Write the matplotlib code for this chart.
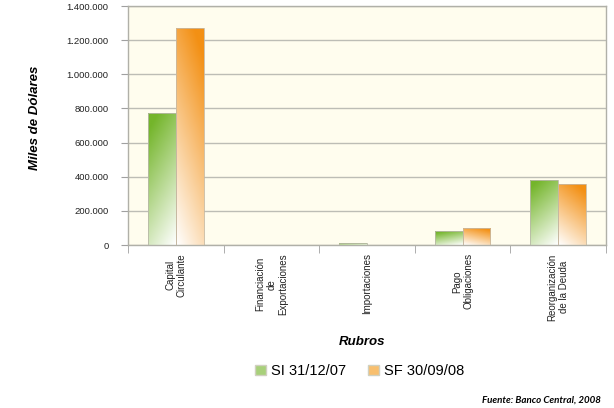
import matplotlib.pyplot as plt
import numpy as np
from matplotlib.colors import LinearSegmentedColormap
from matplotlib.patches import Patch

plt.rcParams['font.family'] = ['Liberation Sans', 'DejaVu Sans']

rubros = [
    "Capital\nCirculante",
    "Financiación\nde\nExportaciones",
    "Importaciones",
    "Pago\nObligaciones",
    "Reorganización\nde la Deuda",
]
si_311207 = [773000, 0, 10000, 82000, 381000]
sf_300908 = [1271000, 0, 0, 97000, 357000]
series_labels = ["SI 31/12/07", "SF 30/09/08"]
y_ticks = [0, 200000, 400000, 600000, 800000, 1000000, 1200000, 1400000]

fig = plt.figure(figsize=(6.14, 4.08), dpi=100)
ax = fig.add_axes([0.2085, 0.3995, 0.7785, 0.5855])
ax.set_facecolor("#FFFDEE")

x = np.arange(len(rubros))
w = 0.29
bars_si = ax.bar(x - w / 2, si_311207, w, color="none", edgecolor="#B8B8A8", linewidth=0.6, zorder=3)
bars_sf = ax.bar(x + w / 2, sf_300908, w, color="none", edgecolor="#C8B8A0", linewidth=0.6, zorder=3)

ax.set_xlim(-0.5, len(rubros) - 0.5)
ax.set_ylim(0, 1400000)

# degradado dentro de cada barra
def degradado(bars, oscuro, lado):
    cmap = LinearSegmentedColormap.from_list("g", ["#FFFFFF", oscuro])
    yy, xx = np.mgrid[0:1:100j, 0:1:40j]
    if lado == "izq":
        xx = 1 - xx
    t = 0.8 * yy + 0.3 * xx
    t = np.clip(t, 0, 1)
    for b in bars:
        h = b.get_height()
        if h <= 0:
            continue
        x0 = b.get_x()
        im = ax.imshow(t, cmap=cmap, vmin=0, vmax=1, origin="lower", aspect="auto",
                       extent=[x0, x0 + b.get_width(), 0, h], zorder=2,
                       interpolation="bilinear")
        im.set_clip_path(b)

degradado(bars_si, "#74B52B", "izq")
degradado(bars_sf, "#F39014", "der")
ax.set_xlim(-0.5, len(rubros) - 0.5)
ax.set_ylim(0, 1400000)

ax.set_yticks(y_ticks)
ax.set_yticklabels([f"{v:,}".replace(",", ".") for v in y_ticks], fontsize=6.8, color="#222222")
ax.yaxis.grid(True, color="#BDBDB5", linewidth=1.0, zorder=0)
ax.set_axisbelow(True)
ax.tick_params(axis="y", length=5, color="#A0A0A0", pad=9)

ax.set_xticks(x)
ax.set_xticklabels(rubros, rotation=90, fontsize=7, color="#222222", multialignment="center")
ax.set_xticks(np.arange(len(rubros) + 1) - 0.5, minor=True)
ax.tick_params(axis="x", which="major", length=0, pad=6)
ax.tick_params(axis="x", which="minor", length=6, color="#A0A0A0")

for s in ax.spines.values():
    s.set_color("#B0B0A8")
    s.set_linewidth(1.0)

fig.text(35 / 614, 1 - 118 / 408, "Miles de Dólares", rotation=90, ha="center", va="center",
         fontsize=9.5, fontweight="bold", fontstyle="italic")
fig.text(362 / 614, 1 - 342 / 408, "Rubros", ha="center", va="center",
         fontsize=9.5, fontweight="bold", fontstyle="italic")

handles = [Patch(facecolor="#A8D07A", edgecolor="#D0D0C0"),
           Patch(facecolor="#F8BF6E", edgecolor="#D0D0C0")]
fig.legend(handles, series_labels, loc="center", bbox_to_anchor=(360 / 614, 1 - 371 / 408),
           ncol=2, frameon=False, fontsize=10.5, handlelength=0.7, handleheight=0.7,
           handletextpad=0.4, columnspacing=1.5)

fig.text(601 / 614, 1 - 400 / 408, "Fuente: Banco Central, 2008", ha="right", va="center",
         fontsize=7, fontweight="bold", fontstyle="italic", family=["Lato", "DejaVu Sans"])

fig.savefig("out.png", dpi=100)
